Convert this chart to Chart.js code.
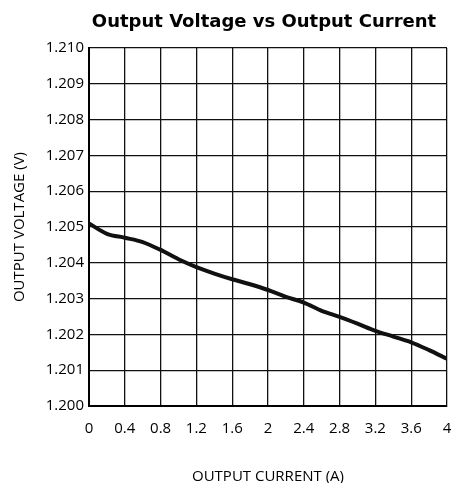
<!DOCTYPE html>
<html>
<head>
<meta charset="utf-8">
<script src="https://cdn.jsdelivr.net/npm/chart.js@4.4.4/dist/chart.umd.min.js"></script>
<style>
  html, body { margin: 0; padding: 0; background: #fff; }
  #wrap { width: 451px; height: 483px; }
</style>
</head>
<body>
<div id="wrap"><canvas id="chart" width="451" height="483"></canvas></div>
<script>
const chartTitle = 'Output Voltage vs Output Current';
const xTitle = 'OUTPUT CURRENT (A)';
const yTitle = 'OUTPUT VOLTAGE (V)';

const current = [0, 0.2, 0.4, 0.6, 0.8, 1.0, 1.2, 1.4, 1.6, 1.8, 2.0,
                 2.2, 2.4, 2.6, 2.8, 3.0, 3.2, 3.4, 3.6, 3.8, 4.0];
const voltage = [1.2051, 1.20481, 1.2047, 1.20458, 1.20436, 1.2041, 1.20388,
                 1.2037, 1.20354, 1.2034, 1.20324, 1.20305, 1.20289, 1.20266,
                 1.20249, 1.2023, 1.2021, 1.20194, 1.20178, 1.20156, 1.20132];

const xTicks = [0, 0.4, 0.8, 1.2, 1.6, 2, 2.4, 2.8, 3.2, 3.6, 4];
const yTicks = [1.200, 1.201, 1.202, 1.203, 1.204, 1.205, 1.206, 1.207, 1.208, 1.209, 1.210];

const points = current.map((c, i) => ({ x: c, y: voltage[i] }));

// title drawn by hand so it sits over the plot, not the canvas centre
const titlePlugin = {
  id: 'plotTitle',
  afterDraw(chart) {
    const ctx = chart.ctx;
    ctx.save();
    ctx.font = 'bold 18px "DejaVu Sans"';
    ctx.fillStyle = '#000';
    ctx.textAlign = 'center';
    ctx.textBaseline = 'alphabetic';
    ctx.fillText(chartTitle, 264, 27);
    ctx.restore();
  }
};

const tickFont = { family: '"Open Sans"', size: 15 };

new Chart(document.getElementById('chart'), {
  type: 'scatter',
  data: {
    datasets: [{
      data: points,
      showLine: true,
      borderColor: '#111',
      borderWidth: 4,
      pointRadius: 0,
      tension: 0.4,
      cubicInterpolationMode: 'monotone'
    }]
  },
  options: {
    responsive: false,
    animation: false,
    layout: { padding: { top: 48, right: 4, left: 0, bottom: 0 } },
    plugins: { legend: { display: false }, tooltip: { enabled: false } },
    scales: {
      x: {
        type: 'linear',
        min: 0, max: 4,
        afterBuildTicks: s => { s.ticks = xTicks.map(v => ({ value: v })); },
        afterFit: s => { s.height = 77; s.paddingLeft = 0; s.paddingRight = 0; },
        ticks: {
          padding: 14,
          color: '#000',
          font: tickFont,
          maxRotation: 0,
          callback: v => String(Number(v.toFixed(1)))
        },
        grid: { color: '#111', lineWidth: 1.3, drawTicks: false },
        border: { color: '#000', width: 2 },
        title: {
          display: true, text: xTitle, color: '#000',
          font: { family: '"Open Sans"', size: 15, lineHeight: 0.8 },
          padding: { top: 0, bottom: 0 }
        }
      },
      y: {
        type: 'linear',
        min: 1.2, max: 1.21,
        afterBuildTicks: s => { s.ticks = yTicks.map(v => ({ value: v })); },
        afterFit: s => { s.width = 89; s.paddingTop = 0; s.paddingBottom = 0; },
        ticks: {
          padding: 5,
          color: '#000',
          font: tickFont,
          callback: v => v.toFixed(3)
        },
        grid: { color: '#111', lineWidth: 1.3, drawTicks: false },
        border: { color: '#000', width: 2 },
        title: {
          display: true, text: yTitle, color: '#000',
          font: { family: '"Open Sans"', size: 15, lineHeight: 1 },
          padding: { top: 12, bottom: 0 }
        }
      }
    }
  },
  plugins: [titlePlugin]
});
</script>
</body>
</html>
